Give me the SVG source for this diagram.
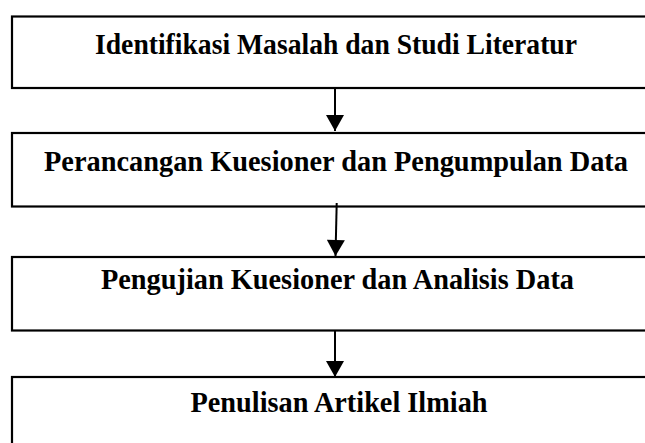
<svg xmlns="http://www.w3.org/2000/svg" width="645" height="443" viewBox="0 0 645 443">
<style>
.box{fill:#fff;stroke:#000;stroke-width:2.2}
.lbl{font-family:"Liberation Serif","Times New Roman",serif;font-weight:bold;font-size:28.5px;fill:#000;text-anchor:middle}
.con{stroke:#000;stroke-width:2;fill:none}
</style>
<defs>
<marker id="ah" markerWidth="17" markerHeight="18" refX="16" refY="9" orient="auto" markerUnits="userSpaceOnUse" viewBox="0 0 16 18">
<path d="M0,0 L16,9 L0,18 Z" fill="#000"/>
</marker>
</defs>
<rect width="645" height="443" fill="#fff"/>
<g id="node1">
<rect class="box" x="12" y="16.5" width="660" height="71.5"/>
<text class="lbl" x="336" y="54" textLength="482" lengthAdjust="spacingAndGlyphs">Identifikasi Masalah dan Studi Literatur</text>
</g>
<g id="node2">
<rect class="box" x="12" y="133" width="660" height="73.5"/>
<text class="lbl" x="336" y="171" textLength="584" lengthAdjust="spacingAndGlyphs">Perancangan Kuesioner dan Pengumpulan Data</text>
</g>
<g id="node3">
<rect class="box" x="12" y="257" width="660" height="73.5"/>
<text class="lbl" x="337.5" y="289" textLength="473" lengthAdjust="spacingAndGlyphs">Pengujian Kuesioner dan Analisis Data</text>
</g>
<g id="node4">
<rect class="box" x="12" y="377" width="660" height="100"/>
<text class="lbl" x="339" y="412" textLength="297" lengthAdjust="spacingAndGlyphs">Penulisan Artikel Ilmiah</text>
</g>
<g id="connectors">
<line class="con" x1="335" y1="89" x2="335" y2="131" marker-end="url(#ah)"/>
<line class="con" x1="336.7" y1="203" x2="335.5" y2="256" marker-end="url(#ah)"/>
<line class="con" x1="335" y1="331" x2="335" y2="377" marker-end="url(#ah)"/>
</g>
</svg>
